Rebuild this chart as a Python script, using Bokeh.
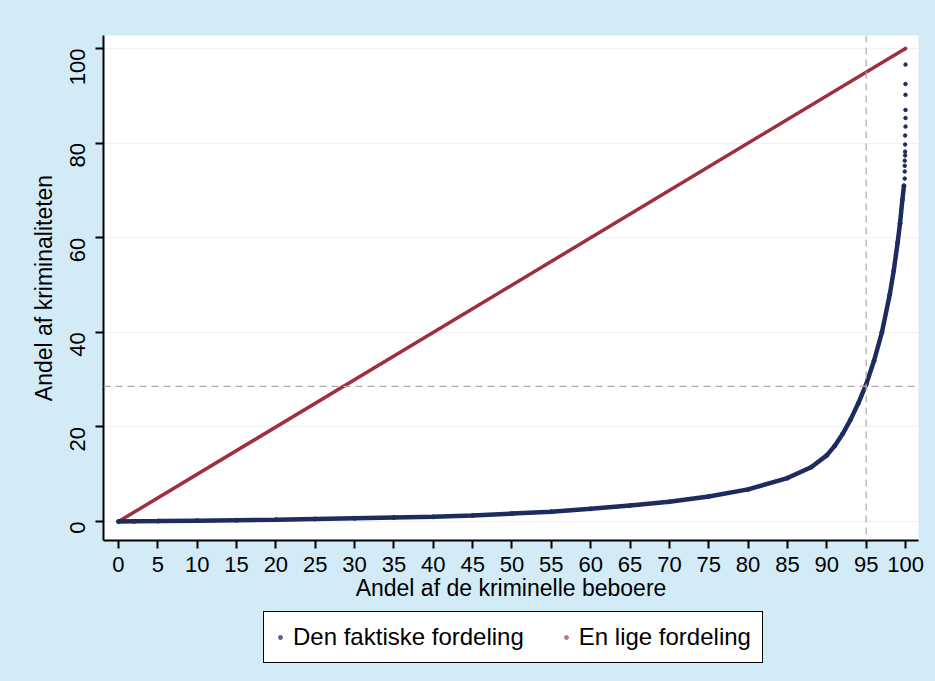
from bokeh.plotting import figure
from bokeh.layouts import column
from bokeh.models import Range1d, Legend, LegendItem, FixedTicker, Span
from bokeh.embed import file_html
from bokeh.resources import INLINE

# Lorenz curve
curve_x = [0, 2, 5, 10, 15, 20, 25, 30, 35, 40, 45, 50, 55, 60, 65, 70, 75, 80,
           85, 88, 90, 91, 92, 93, 94, 95, 96, 97, 98, 98.5, 99, 99.3, 99.6, 99.8]
curve_y = [0, 0.05, 0.1, 0.2, 0.3, 0.4, 0.55, 0.7, 0.85, 1.0, 1.3, 1.7, 2.1, 2.7, 3.4,
           4.2, 5.3, 6.8, 9.2, 11.5, 14, 16, 18.5, 21.5, 25, 29, 34, 40, 48, 53, 59,
           63, 68, 71]
# sparse top points near x = 100
top_x = [99.9, 99.9, 99.9, 99.9, 99.95, 99.95, 99.95, 99.95, 100, 100, 100, 100, 100, 100]
top_y = [72.5, 74, 75.2, 76.3, 77.4, 78.2, 79.7, 81.6, 83.5, 85.3, 87, 90.2, 92.5, 96.6]
# equal distribution
equal_x = [0, 100]
equal_y = [0, 100]

ref_x = 95
ref_y = 28.6

x_ticks = list(range(0, 101, 5))
y_ticks = [0, 20, 40, 60, 80, 100]
legend_labels = ["Den faktiske fordeling", "En lige fordeling"]

BG = "#d3ebf6"
BLUE = "#1d2b5e"
RED = "#9e2f3e"
FONT = "Liberation Sans"

p = figure(width=935, height=610, output_backend="svg", toolbar_location=None,
           x_range=Range1d(-1.9, 101.65), y_range=Range1d(-4.0, 102.75),
           min_border_left=103, min_border_right=17, min_border_top=35, min_border_bottom=70)
p.border_fill_color = BG
p.background_fill_color = "white"
p.outline_line_color = None

p.xgrid.grid_line_color = None
p.ygrid.grid_line_color = "#f1f1f1"
p.ygrid.ticker = FixedTicker(ticks=y_ticks)

for ax in (p.xaxis[0], p.yaxis[0]):
    ax.axis_line_color = "black"
    ax.axis_line_width = 2
    ax.major_tick_line_color = "black"
    ax.major_tick_line_width = 2
    ax.major_tick_out = 8
    ax.major_tick_in = 0
    ax.minor_tick_line_color = None
    ax.major_label_text_font = FONT
    ax.major_label_text_font_size = "22px"
    ax.major_label_text_color = "black"
    ax.axis_label_text_font = FONT
    ax.axis_label_text_font_size = "23px"
    ax.axis_label_text_font_style = "normal"
    ax.axis_label_text_color = "black"

p.xaxis.ticker = FixedTicker(ticks=x_ticks)
p.yaxis.ticker = FixedTicker(ticks=y_ticks)
p.yaxis.major_label_orientation = 3.14159 / 2
p.xaxis.axis_label = "Andel af de kriminelle beboere"
p.yaxis.axis_label = "Andel af kriminaliteten"
p.xaxis.major_label_standoff = 8
p.xaxis.axis_label_standoff = 0
p.yaxis.major_label_standoff = 18
p.yaxis.axis_label_standoff = 2

# reference dashed lines
p.add_layout(Span(location=ref_x, dimension="height", line_color="#a9a9a9",
                  line_dash="7 5", line_width=1.2))
p.add_layout(Span(location=ref_y, dimension="width", line_color="#a9a9a9",
                  line_dash="7 5", line_width=1.2))

# equal distribution line
p.line(equal_x, equal_y, line_color=RED, line_width=3.5)
p.scatter(equal_x, equal_y, size=3, color=RED)

# actual distribution
p.line(curve_x, curve_y, line_color=BLUE, line_width=4.5)
p.scatter(curve_x, curve_y, size=4, color=BLUE)
p.scatter(top_x, top_y, size=3.5, color=BLUE)

# legend strip below the chart (its data lie outside its ranges, only the legend shows)
q = figure(width=935, height=71, output_backend="svg", toolbar_location=None,
           x_range=Range1d(-20, -10), y_range=Range1d(-20, -10),
           min_border_left=0, min_border_right=0, min_border_top=0, min_border_bottom=0)
q.axis.visible = False
q.grid.visible = False
q.outline_line_color = None
q.border_fill_color = BG
q.background_fill_color = BG
lb = q.scatter(curve_x, curve_y, size=5, color="#55648a")
lr = q.scatter(equal_x, equal_y, size=5, color="#b57c88")

legend = Legend(items=[LegendItem(label=legend_labels[0], renderers=[lb]),
                       LegendItem(label=legend_labels[1], renderers=[lr])],
                orientation="horizontal", location=(160, 18),
                border_line_color="black", border_line_width=1.5, border_line_alpha=1,
                background_fill_color="white", background_fill_alpha=1,
                label_text_font=FONT, label_text_font_size="24px", label_text_color="black",
                glyph_width=10, glyph_height=14, spacing=37, padding=11,
                margin=0, label_standoff=8)
q.add_layout(legend, "center")

layout = column(p, q, spacing=0)
html = file_html(layout, INLINE)
html = html.replace("</head>", "<style>body{background:%s;}</style></head>" % BG)
open("out.html", "w").write(html)
